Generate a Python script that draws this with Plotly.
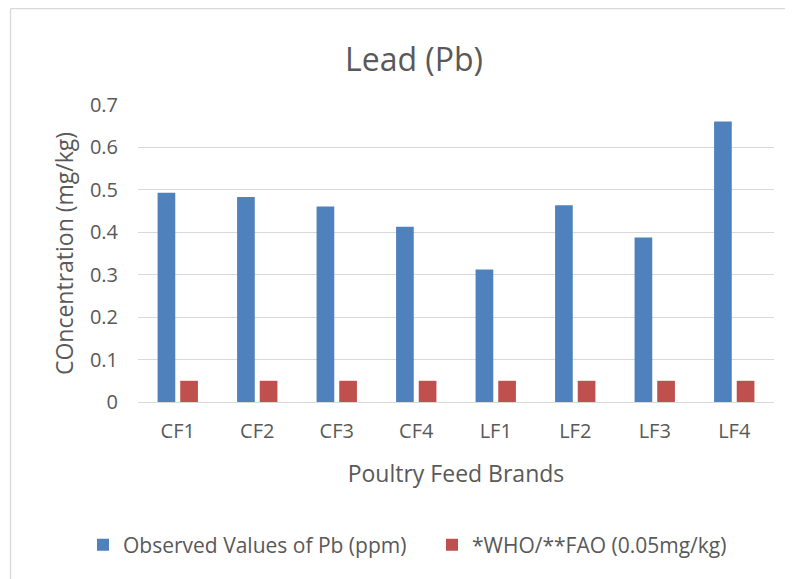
import plotly.graph_objects as go

categories = ["CF1", "CF2", "CF3", "CF4", "LF1", "LF2", "LF3", "LF4"]
observed_pb = [0.493, 0.483, 0.461, 0.413, 0.312, 0.464, 0.388, 0.661]
who_fao_limit = [0.05, 0.05, 0.05, 0.05, 0.05, 0.05, 0.05, 0.05]

FONT = "Open Sans"
TXT = "#595959"

fig = go.Figure()
fig.add_trace(go.Bar(x=categories, y=observed_pb, name="Observed Values of Pb (ppm)",
                     marker=dict(color="#4F81BD", line=dict(width=0))))
fig.add_trace(go.Bar(x=categories, y=who_fao_limit, name="*WHO/**FAO (0.05mg/kg)",
                     marker=dict(color="#C0504D", line=dict(width=0))))

# page body has an 8px margin; figure is sized/offset to compensate
OFF = 8
W, H = 793 - OFF, 579 - OFF
L, T = 138 - OFF, 105 - OFF
R = W - (774 - OFF)
B = H - (402 - OFF)
pw = W - L - R
ph = H - T - B

def px_x(sx):
    return (sx - OFF - L) / pw

def px_y(sy):
    return (H - B - (sy - OFF)) / ph

border = dict(color="#D9D9D9", width=1.3)

fig.update_layout(
    width=W, height=H,
    margin=dict(l=L, r=R, t=T, b=B, autoexpand=False),
    paper_bgcolor="white", plot_bgcolor="white",
    font=dict(family=FONT, color=TXT, size=18),
    barmode="group", bargap=0.43, bargroupgap=0.22,
    title=dict(text="Lead (Pb)", x=(414 - OFF) / W, xanchor="center", xref="container",
               y=1 - (60 - OFF) / H, yanchor="middle", yref="container",
               font=dict(size=32, color=TXT, family=FONT)),
    showlegend=True,
    legend=dict(orientation="h", x=px_x(97 - 14), xanchor="left",
                y=px_y(545), yanchor="middle",
                font=dict(size=21, color=TXT, family=FONT),
                itemwidth=30, entrywidth=304, entrywidthmode="pixels", traceorder="normal"),
    xaxis=dict(showgrid=False, showline=False, zeroline=False, ticks="",
               tickfont=dict(size=20, color=TXT), ticklabelstandoff=15,
               title=dict(text="Poultry Feed Brands", font=dict(size=23, color=TXT), standoff=22)),
    yaxis=dict(range=[0, 0.7], dtick=0.1, tick0=0, showgrid=True, gridcolor="#D9D9D9", gridwidth=1.3,
               zeroline=True, zerolinecolor="#D9D9D9", zerolinewidth=1.3, showline=False, ticks="",
               tickfont=dict(size=20, color=TXT), ticklabelstandoff=19,
               title=dict(text="COncentration (mg/kg)", font=dict(size=23, color=TXT), standoff=9)),
    shapes=[
        dict(type="line", xref="paper", yref="paper",
             x0=px_x(10.5), x1=px_x(793), y0=px_y(8.5), y1=px_y(8.5), line=border, layer="below"),
        dict(type="line", xref="paper", yref="paper",
             x0=px_x(10.5), x1=px_x(10.5), y0=px_y(8.5), y1=px_y(579), line=border, layer="below"),
    ],
)

fig.write_html("out.html")
